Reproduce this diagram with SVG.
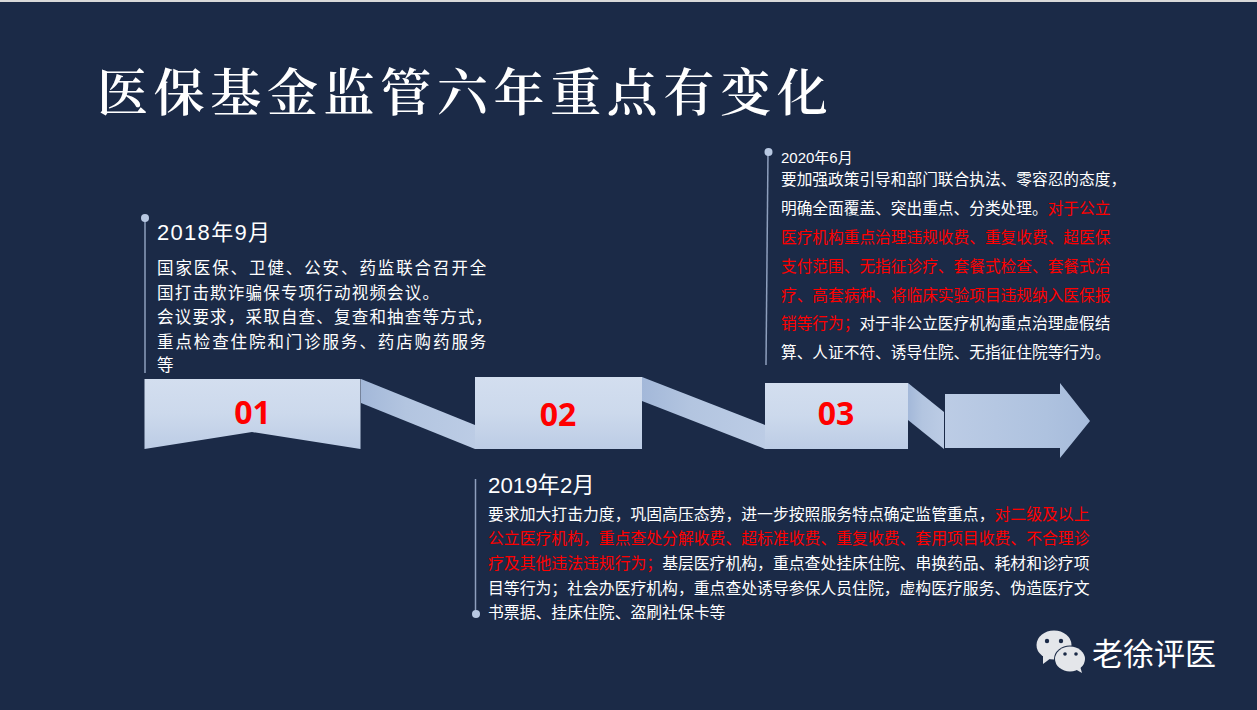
<svg xmlns="http://www.w3.org/2000/svg" width="1257" height="710" viewBox="0 0 1257 710">
<defs>
<linearGradient id="box" x1="0" y1="0" x2="0" y2="1"><stop offset="0" stop-color="#d3deef"/><stop offset="0.5" stop-color="#ccd9ec"/><stop offset="1" stop-color="#bccce5"/></linearGradient>
<linearGradient id="band" x1="0" y1="0" x2="1" y2="0"><stop offset="0" stop-color="#a3b8d9"/><stop offset="0.4" stop-color="#b3c5e0"/><stop offset="1" stop-color="#bccce5"/></linearGradient>
<linearGradient id="arrow" x1="0" y1="0" x2="1" y2="0"><stop offset="0" stop-color="#bccce5"/><stop offset="0.7" stop-color="#aec2df"/><stop offset="1" stop-color="#a6bbdb"/></linearGradient>
</defs>
<style>
text{font-family:"Liberation Sans","Noto Sans CJK SC",sans-serif;fill:#fff}
.title{font-family:"Noto Serif CJK SC","Liberation Serif","Noto Sans CJK SC",serif;font-size:51px;font-weight:600;letter-spacing:5.65px}
.num{font-size:32px;font-weight:700;fill:#f00;text-anchor:middle;font-family:"Open Sans","Liberation Sans",sans-serif}
.b1{font-size:16.5px;letter-spacing:1.9px}
.b1n{font-size:16.5px;letter-spacing:1.2px}
.b2{font-size:15.84px}
.b3{font-size:15.7px}
.red{fill:#f00}
.line{stroke:#8e9fbd;stroke-width:1.5;fill:none}
.dot{fill:#b8c8e2}
</style>
<rect width="1257" height="710" fill="#1b2a47"/>
<rect width="1257" height="2" fill="#d9d9d9"/>
<text class="title" x="97" y="111">医保基金监管六年重点有变化</text>
<g id="connectors">
<polygon points="361,379 475,425 475,449 361,403" fill="url(#band)"/>
<polygon points="642,377 765,425 765,449 642,401" fill="url(#band)"/>
<polygon points="908,383 944,412 944,449 908,420" fill="url(#band)"/>
<line class="line" x1="145" y1="218" x2="145" y2="373"/>
<circle class="dot" cx="145" cy="218" r="4"/>
<line class="line" x1="475.5" y1="479" x2="475.5" y2="614"/>
<circle class="dot" cx="476" cy="614" r="4"/>
<line class="line" x1="768" y1="152" x2="766" y2="365"/>
<circle class="dot" cx="768.500" cy="152" r="4"/>
</g>
<g id="node-01">
<polygon points="144.500,379 360.500,379 360.500,449 252,432 144.500,449" fill="url(#box)"/>
<text class="num" x="252.500" y="424">01</text>
</g>
<g id="node-02">
<rect x="475" y="377" width="167" height="72" fill="url(#box)"/>
<text class="num" x="558" y="426">02</text>
</g>
<g id="node-03">
<rect x="765" y="383" width="143" height="66" fill="url(#box)"/>
<text class="num" x="836" y="425">03</text>
</g>
<g id="node-arrow">
<polygon points="945,394 1060,394 1060,383 1090,421 1060,458 1060,448 945,448" fill="url(#arrow)"/>
</g>
<g id="text-2018">
<text x="157" y="240" font-size="22" letter-spacing="1.3">2018年9月</text>
<text class="b1" x="157" y="274">国家医保、卫健、公安、药监联合召开全</text>
<text class="b1n" x="157" y="299">国打击欺诈骗保专项行动视频会议。</text>
<text class="b1n" x="157" y="323">会议要求，采取自查、复查和抽查等方式，</text>
<text class="b1" x="157" y="348">重点检查住院和门诊服务、药店购药服务</text>
<text class="b1" x="157" y="371">等</text>
</g>
<g id="text-2019">
<text x="488" y="493" font-size="22.3">2019年2月</text>
<text class="b2" x="488" y="520">要求加大打击力度，巩固高压态势，进一步按照服务特点确定监管重点，<tspan class="red">对二级及以上</tspan></text>
<text class="b2 red" x="488" y="544">公立医疗机构，重点查处分解收费、超标准收费、重复收费、套用项目收费、不合理诊</text>
<text class="b2" x="488" y="569"><tspan class="red">疗及其他违法违规行为；</tspan>基层医疗机构，重点查处挂床住院、串换药品、耗材和诊疗项</text>
<text class="b2" x="488" y="594">目等行为；社会办医疗机构，重点查处诱导参保人员住院，虚构医疗服务、伪造医疗文</text>
<text class="b2" x="488" y="618">书票据、挂床住院、盗刷社保卡等</text>
</g>
<g id="text-2020">
<text x="781" y="163" font-size="15">2020年6月</text>
<text class="b3" x="781" y="185">要加强政策引导和部门联合执法、零容忍的态度，</text>
<text class="b3" x="781" y="214">明确全面覆盖、突出重点、分类处理。<tspan class="red">对于公立</tspan></text>
<text class="b3 red" x="781" y="243">医疗机构重点治理违规收费、重复收费、超医保</text>
<text class="b3 red" x="781" y="272">支付范围、无指征诊疗、套餐式检查、套餐式治</text>
<text class="b3 red" x="781" y="301">疗、高套病种、将临床实验项目违规纳入医保报</text>
<text class="b3" x="781" y="329"><tspan class="red">销等行为；</tspan>对于非公立医疗机构重点治理虚假结</text>
<text class="b3" x="781" y="358">算、人证不符、诱导住院、无指征住院等行为。</text>
</g>
<g id="watermark">
<ellipse cx="1054" cy="645" rx="17.500" ry="14.500" fill="#e4e6ea"/>
<polygon points="1043,655 1043,664 1051,658" fill="#e4e6ea"/>
<ellipse cx="1070" cy="659" rx="16" ry="13.500" fill="#1b2a47"/>
<ellipse cx="1070" cy="659" rx="15" ry="12.500" fill="#e4e6ea"/>
<polygon points="1075,669 1082,673 1080,666" fill="#e4e6ea"/>
<circle cx="1047" cy="641" r="2.200" fill="#1b2a47"/><circle cx="1061" cy="641" r="2.200" fill="#1b2a47"/>
<circle cx="1065" cy="654" r="1.800" fill="#1b2a47"/><circle cx="1076" cy="654" r="1.800" fill="#1b2a47"/>
<text x="1092" y="665" font-size="31" font-family="Noto Sans CJK SC">老徐评医</text>
</g>
</svg>
